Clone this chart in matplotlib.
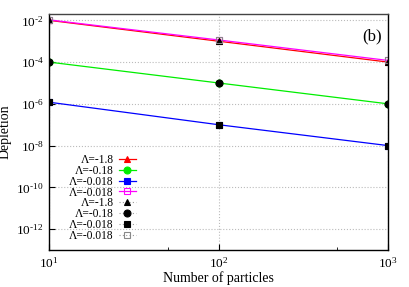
import numpy as np
import matplotlib.pyplot as plt
from matplotlib.lines import Line2D
from matplotlib.ticker import FixedLocator, FuncFormatter, NullFormatter

plt.rcParams['font.family'] = 'Liberation Serif'
plt.rcParams['mathtext.fontset'] = 'custom'
plt.rcParams['mathtext.rm'] = 'Liberation Serif'
plt.rcParams['mathtext.it'] = 'Liberation Serif:italic'

# data
n_particles = [10, 100, 1000]
dep_m18 = [1.0e-2, 1.0e-3, 1.0e-4]
dep_m018 = [1.0e-4, 1.0e-5, 1.0e-6]
dep_m0018 = [1.2e-6, 1.0e-7, 1.0e-8]
dep_m0018b = [1.05e-2, 1.15e-3, 1.2e-4]

labels = ['Λ=-1.8', 'Λ=-0.18', 'Λ=-0.018', 'Λ=-0.018']
colors = ['#ff0000', '#00ee00', '#0000ff', '#ff00ff']
markers = ['^', 'o', 's', 's']
series = [dep_m18, dep_m018, dep_m0018, dep_m0018b]
filled = [True, True, True, False]

fig = plt.figure(figsize=(4.09, 2.87), dpi=100)
ax = fig.add_axes([0.120, 0.129, 0.829, 0.822])

handles = []
# coloured lines with markers
for y, c, m, f, lab in zip(series, colors, markers, filled, labels):
    h, = ax.plot(n_particles, y, color=c, lw=0.9, marker=m, ms=5,
                 mfc=c if f else 'none', mec=c, mew=0.8, label=lab)
    handles.append(h)

# black points on top
for y, m, f, lab in zip(series, markers, filled, labels):
    ec = 'black' if f else '#888888'
    ax.plot(n_particles, y, ls='none', marker=m, ms=5,
            mfc='black' if f else 'none', mec=ec, mew=0.8)
    handles.append(Line2D([], [], color='#999999', ls=(0, (1, 2)), lw=0.8,
                          marker=m, ms=5, mfc='black' if f else 'none',
                          mec=ec, mew=0.8, label=lab))

ax.set_xscale('log')
ax.set_yscale('log')
ax.set_xlim(10, 1000)
ax.set_ylim(1e-13, 2e-2)

ax.yaxis.set_major_locator(FixedLocator([1e-12, 1e-10, 1e-8, 1e-6, 1e-4, 1e-2]))
ax.yaxis.set_minor_locator(FixedLocator([]))
ax.xaxis.set_major_locator(FixedLocator([10, 100, 1000]))
ax.xaxis.set_minor_locator(FixedLocator([50, 500]))
ax.xaxis.set_minor_formatter(NullFormatter())
fmt = FuncFormatter(lambda v, p: r'$10^{\text{%d}}$' % int(round(np.log10(v))))
ax.xaxis.set_major_formatter(fmt)
ax.yaxis.set_major_formatter(fmt)
ax.tick_params(labelsize=9.5, direction='in', length=4, top=False, right=False)
ax.tick_params(axis='x', which='minor', direction='in', length=2)
ax.tick_params(axis='x', pad=4)
ax.tick_params(axis='y', pad=4)

ax.grid(True, which='major', color='#bbbbbb', ls=':', lw=0.8)
for s in ax.spines.values():
    s.set_linewidth(1.0)
ax.spines['top'].set_color('#444444')

ax.set_xlabel('Number of particles', fontsize=10, labelpad=1)
ax.set_ylabel('Depletion', fontsize=10, labelpad=3)
ax.text(0.953, 0.905, '(b)', transform=ax.transAxes, fontsize=12,
        ha='center', va='center')

ax.legend(handles=handles, loc='lower left', bbox_to_anchor=(0.035, 0.0),
          fontsize=8.3, markerfirst=False, frameon=False, handlelength=1.4,
          labelspacing=-0.1, borderpad=0.2, handletextpad=0.5)

fig.savefig('out.png', dpi=100)
